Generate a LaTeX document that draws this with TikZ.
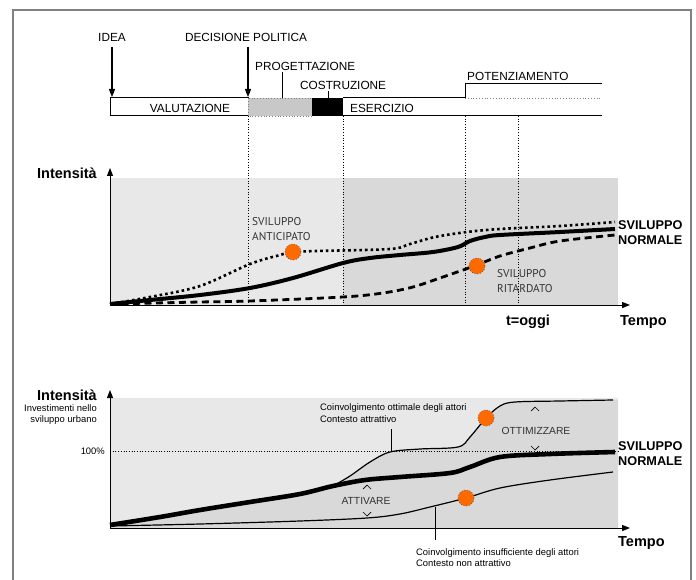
\documentclass[tikz,border=0pt]{standalone}
\usepackage{fontspec}
\setmainfont{Liberation Sans}
\newfontfamily\annofont{PT Sans}
\usetikzlibrary{arrows.meta}
\definecolor{framegray}{HTML}{808080}
\definecolor{bglight}{HTML}{E8E8E8}
\definecolor{bgdark}{HTML}{D9D9D9}
\definecolor{phasegray}{HTML}{C8C8C8}
\definecolor{dotorange}{HTML}{FF6A00}
\definecolor{annogray}{HTML}{333333}
\tikzset{
  toplabel/.style={inner sep=0pt, font=\fontsize{11.8}{14}\selectfont},
  axislabel/.style={inner sep=0pt, font=\fontsize{14.5}{17}\selectfont\bfseries},
  normlabel/.style={inner sep=0pt, align=left, font=\fontsize{12.7}{15}\selectfont\bfseries},
  curvelabel/.style={inner sep=0pt, align=left, text=annogray, font=\annofont\fontsize{11.3}{15}\selectfont},
  smalllabel/.style={inner sep=0pt, align=left, font=\fontsize{9.4}{11.5}\selectfont},
  actlabel/.style={inner sep=0pt, text=annogray, font=\fontsize{10.3}{12}\selectfont},
  axisline/.style={line width=1pt, -{Triangle[width=6pt,length=8pt]}},
  guide/.style={line width=0.7pt, dotted},
  pointer/.style={line width=1.1pt, -{Triangle[width=6pt,length=8pt]}},
  leader/.style={line width=0.9pt},
  curvethick/.style={line width=4pt},
  curvedots/.style={line width=2.6pt, dash pattern=on 2.6pt off 3pt},
  curvedash/.style={line width=2.8pt, dash pattern=on 7pt off 4.5pt},
  curvethin/.style={line width=1.2pt},
  hotspot/.style={circle, minimum size=16pt, inner sep=0pt, fill=dotorange, draw=black!70, dotted, line width=0.7pt},
  chev/.style={line width=0.7pt}
}
\begin{document}
\begin{tikzpicture}[x=1pt, y=-1pt]
\useasboundingbox (0,0) rectangle (696,580);

% outer frame, open at the bottom
\draw[framegray, line width=1.5pt] (13,580) -- (13,10) -- (691,10) -- (691,580);

% ---------------- phase bar ----------------
\node[toplabel] (idea) at (112,37) {IDEA};
\node[toplabel] (decis) at (246,37) {DECISIONE POLITICA};
\node[toplabel, anchor=west] (prog) at (255,66) {PROGETTAZIONE};
\node[toplabel, anchor=west] (costr) at (300,85) {COSTRUZIONE};
\node[toplabel, anchor=west] (poten) at (467,76) {POTENZIAMENTO};

\coordinate (ideatip) at (112,97);
\coordinate (decistip) at (248,97);
\draw[pointer] (112,47) -- (ideatip);
\draw[pointer] (248,47) -- (decistip);

\draw[fill=white, line width=1pt] (110,98) rectangle (248,116);
\fill[phasegray] (248,98) rectangle (312,116);
\draw[gray, dotted, line width=0.8pt] (248,98) rectangle (312,116);
\fill[black] (312,98) rectangle (343,116);
\draw[line width=1pt] (343,98) -- (465,98) -- (465,84) -- (602,84);
\draw[line width=1pt] (312,116) -- (602,116);
\draw[gray, dotted, line width=0.8pt] (465,98) -- (602,98);
\node[toplabel] (valut) at (190,108) {VALUTAZIONE};
\node[toplabel, anchor=west] (eserc) at (350,108) {ESERCIZIO};

\draw[leader] (282,72) -- (282,98);
\draw[leader] (328,91) -- (328,98);

% ---------------- upper chart ----------------
\fill[bglight] (110,178) rectangle (343,305);
\fill[bgdark] (343,178) rectangle (618,305);

\foreach \gx in {248,343,465,518} \draw[guide] (\gx,116) -- (\gx,305);

% anticipated development (dotted)
\draw[curvedots] plot[smooth, tension=0.55] coordinates {(110,304) (150,297) (200,286) (250,264) (280,255) (293,252) (317,251) (390,249) (410,244) (435,237) (467,232) (500,229) (560,226) (615,222)};
% normal development (thick)
\draw[curvethick] plot[smooth, tension=0.55] coordinates {(110,304) (150,300) (200,295) (250,288) (293,278) (343,263) (370,258) (400,255) (433,252) (458,247) (470,241) (485,237) (500,235) (560,232) (615,229)};
% delayed development (dashed)
\draw[curvedash] plot[smooth, tension=0.55] coordinates {(110,304) (200,302) (250,301) (343,297) (383,293) (413,287) (440,278) (463,270) (477,265) (500,256) (530,248) (560,241) (615,235)};

\node[hotspot] (dotA) at (293,252) {};
\node[hotspot] (dotB) at (477,266) {};

\node[curvelabel, anchor=west] (antic) at (252,229.5) {SVILUPPO\\ANTICIPATO};
\node[curvelabel, anchor=west] (ritar) at (497,281.5) {SVILUPPO\\RITARDATO};

\coordinate (o1) at (110,305);
\coordinate (x1) at (630,305);
\coordinate (y1) at (110,168);
\draw[axisline] (o1) -- (x1);
\draw[axisline] (o1) -- (y1);

\node[axislabel, anchor=east] (int1) at (97,173) {Intensità};
\node[axislabel, anchor=west] (tempo1) at (620,322) {Tempo};
\node[axislabel] (oggi) at (528,322) {t=oggi};
\node[normlabel, anchor=west] (norm1) at (618,232.5) {SVILUPPO\\NORMALE};

% ---------------- lower chart ----------------
\fill[bglight] (110,398) rectangle (618,528);
\fill[bgdark] (110,528) -- plot[smooth, tension=0.55] coordinates {(110,525) (160,517) (200,510) (250,502) (300,494) (333,486)}
  -- plot[smooth, tension=0.55] coordinates {(333,486) (350,476) (370,462) (390,452) (420,449) (458,447) (470,437) (486,418) (500,406) (515,402) (560,401) (618,400)}
  -- (618,528) -- cycle;

\draw[guide] (110,451) -- (618,451);

% optimal involvement
\draw[curvethin] plot[smooth, tension=0.55] coordinates {(333,486) (350,476) (370,462) (390,452) (420,449) (458,447) (470,437) (486,418) (500,406) (515,402) (560,401) (613,400)};
% normal development
\draw[line width=4.6pt] plot[smooth, tension=0.55] coordinates {(110,525) (160,517) (200,510) (250,502) (300,494) (333,486) (365,480) (400,477) (450,473) (470,467) (500,457) (550,454) (615,452)};
% insufficient involvement
\draw[curvethin] plot[smooth, tension=0.55] coordinates {(110,526) (200,524) (300,521) (367,518) (400,514) (430,507) (466,498) (500,488) (550,480) (613,472)};

\node[hotspot] (dotC) at (486,418) {};
\node[hotspot] (dotD) at (466,498) {};

% gap markers
\draw[chev] (363,489) -- (367,485) -- (371,489);
\draw[chev] (363,512) -- (367,516) -- (371,512);
\draw[chev] (531,411) -- (535,407) -- (539,411);
\draw[chev] (531,446) -- (535,450) -- (539,446);
\node[actlabel] (attiv) at (366,501) {ATTIVARE};
\node[actlabel] (ottim) at (536,431) {OTTIMIZZARE};

\node[smalllabel, anchor=west] (ottlab) at (320,413) {Coinvolgimento ottimale degli attori\\Contesto attrattivo};
\node[smalllabel, anchor=west] (inslab) at (416,557.5) {Coinvolgimento insufficiente degli attori\\Contesto non attrattivo};
\draw[leader] (391,429) -- (391,451);
\draw[leader] (435,507) -- (435,540);

\coordinate (o2) at (110,528);
\coordinate (x2) at (630,528);
\coordinate (y2) at (110,390);
\draw[axisline] (o2) -- (x2);
\draw[axisline] (o2) -- (y2);

\node[axislabel, anchor=east] (int2) at (97,395) {Intensità};
\node[smalllabel, anchor=east, align=right] (invest) at (97,414.5) {Investimenti nello\\sviluppo urbano};
\node[smalllabel, anchor=east] (cent) at (105,451) {100\%};
\node[axislabel, anchor=west] (tempo2) at (618,543) {Tempo};
\node[normlabel, anchor=west] (norm2) at (618,453.5) {SVILUPPO\\NORMALE};
\end{tikzpicture}
\end{document}
